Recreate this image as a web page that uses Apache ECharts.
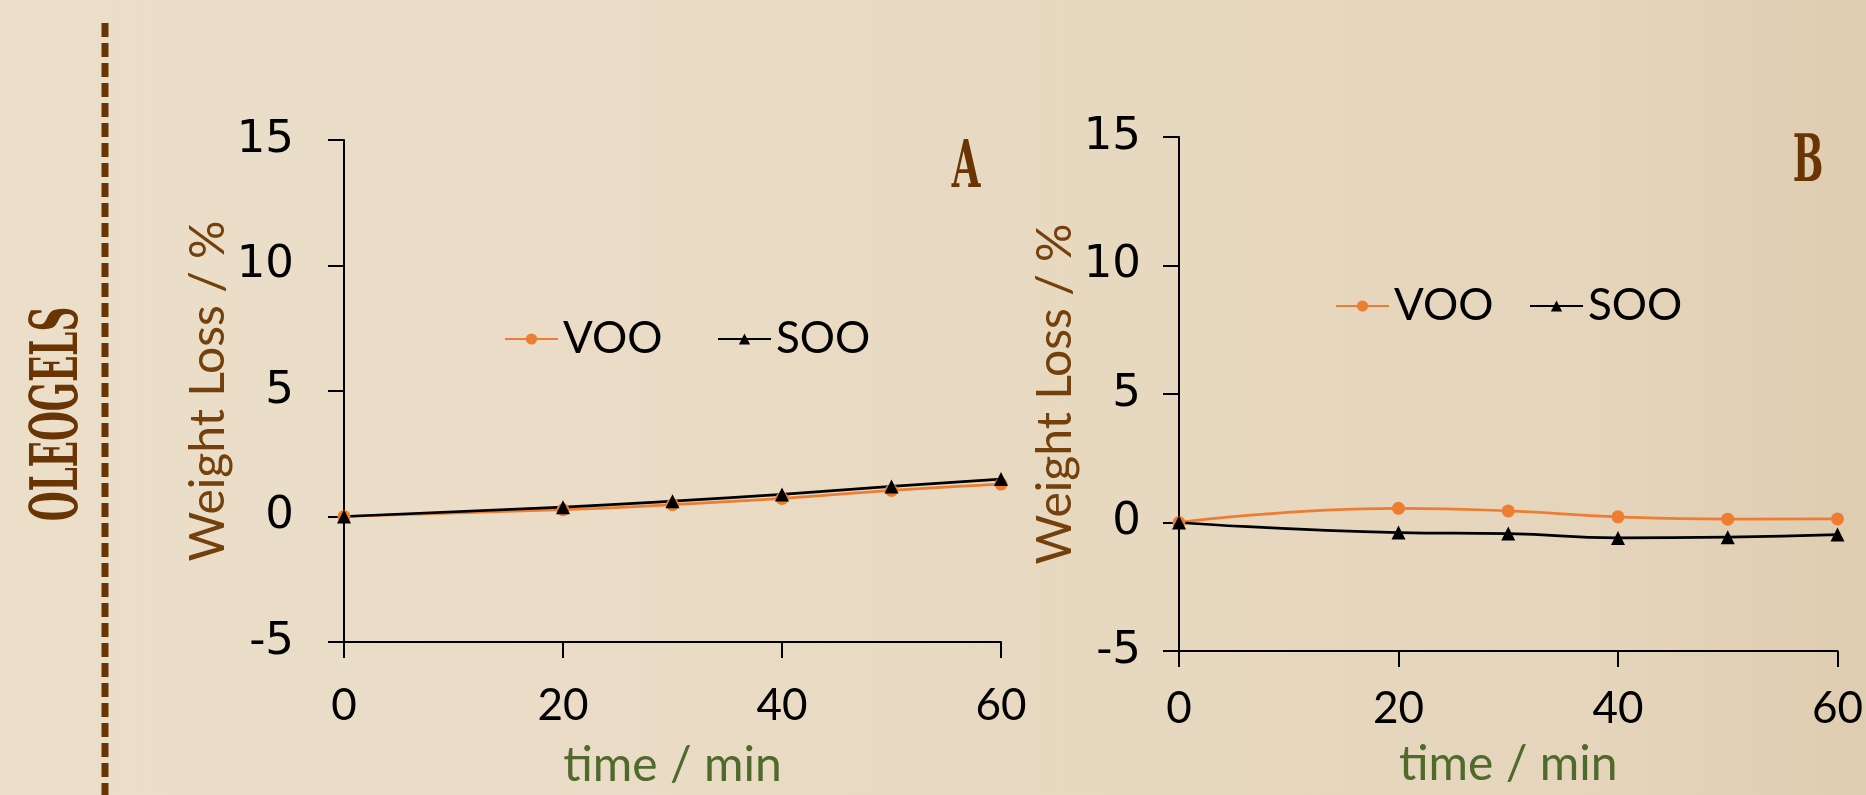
<!DOCTYPE html>
<html>
<head>
<meta charset="utf-8">
<script src="https://cdn.jsdelivr.net/npm/echarts@6/dist/echarts.min.js"></script>
<style>
html,body{margin:0;padding:0;}
#chart{width:1866px;height:795px;}
</style>
</head>
<body>
<div id="chart"></div>
<script>
// ---- data ----
const timeMin = [0, 20, 30, 40, 50, 60];
const vooA = [0, 0.27, 0.47, 0.72, 1.04, 1.29];
const sooA = [0, 0.37, 0.61, 0.88, 1.20, 1.49];
const vooB = [0, 0.55, 0.45, 0.22, 0.13, 0.14];
const sooB = [0, -0.39, -0.43, -0.60, -0.57, -0.47];
const seriesNames = ['VOO', 'SOO'];
const panelLabels = ['A', 'B'];
const sideLabel = 'OLEOGELS';
const xTitle = 'time / min';
const yTitle = 'Weight Loss / %';

const pairs = arr => timeMin.map((t, i) => [t, arr[i]]);

const BROWN = '#6a3505';
const ORANGE = '#ed7d31';
const GREEN = '#4f6a2a';

function xAxis(gridIndex, labelMargin, nameGap) {
  return {
    type: 'value', gridIndex, min: 0, max: 60, interval: 20,
    name: xTitle, nameLocation: 'middle', nameGap,
    nameTextStyle: { fontFamily: 'Lato', fontSize: 48, color: GREEN },
    axisLine: { onZero: false, lineStyle: { color: '#000', width: 2 } },
    axisTick: { show: true, length: 16, lineStyle: { color: '#000', width: 2 } },
    axisLabel: { fontFamily: 'Lato', fontSize: 44, color: '#000', margin: labelMargin },
    splitLine: { show: false }
  };
}
function yAxis(gridIndex, labelMargin, nameGap) {
  return {
    type: 'value', gridIndex, min: -5, max: 15, interval: 5,
    name: yTitle, nameLocation: 'middle', nameGap, nameRotate: 90,
    nameTextStyle: { fontFamily: 'Lato', fontSize: 48, color: '#74400c' },
    axisLine: { show: true, lineStyle: { color: '#000', width: 2 } },
    axisTick: { show: true, length: 16, lineStyle: { color: '#000', width: 2 } },
    axisLabel: { fontFamily: 'DejaVu Sans', fontSize: 45, color: '#000', margin: labelMargin },
    splitLine: { show: false }
  };
}
function lineSeries(name, data, idx, smooth) {
  const isV = name === 'VOO';
  return {
    name, type: 'line', xAxisIndex: idx, yAxisIndex: idx, data,
    smooth,
    symbol: isV ? 'circle' : 'triangle',
    symbolSize: isV ? 13 : 14,
    lineStyle: { color: isV ? ORANGE : '#000', width: 2.75 },
    itemStyle: { color: isV ? ORANGE : '#000' },
    animation: false
  };
}
function legend(name, left, top) {
  return {
    data: [name], left, top, padding: 0, itemWidth: 53, itemHeight: 14, itemGap: 6,
    textStyle: { fontFamily: 'Lato', fontSize: 44, color: '#000' }
  };
}

const chart = echarts.init(document.getElementById('chart'));
chart.setOption({
  backgroundColor: {
    type: 'linear', x: 0, y: 0, x2: 1, y2: 0,
    colorStops: [
      { offset: 0, color: '#ebdfca' },
      { offset: 0.3, color: '#eadcc6' },
      { offset: 0.6, color: '#e7d8c0' },
      { offset: 0.85, color: '#e5d5bc' },
      { offset: 1, color: '#dfcdb1' }
    ]
  },
  animation: false,
  grid: [
    { left: 344, top: 140, width: 657, height: 503 },
    { left: 1179, top: 137, width: 663, height: 514 }
  ],
  xAxis: [xAxis(0, 42, 100), xAxis(1, 36, 90)],
  yAxis: [yAxis(0, 50, 98), yAxis(1, 38, 88)],
  legend: [
    legend(seriesNames[0], 504, 317),
    legend(seriesNames[1], 717, 317),
    legend(seriesNames[0], 1335, 284),
    legend(seriesNames[1], 1529, 284)
  ],
  series: [
    lineSeries('VOO', pairs(vooA), 0, true),
    lineSeries('SOO', pairs(sooA), 0, true),
    lineSeries('VOO', pairs(vooB), 1, true),
    lineSeries('SOO', pairs(sooB), 1, true)
  ],
  graphic: [
    { type: 'line', shape: { x1: 105, y1: 23, x2: 105, y2: 795 },
      style: { stroke: BROWN, lineWidth: 7, lineDash: [14, 6] } },
    { type: 'text', x: 60, y: 414, rotation: Math.PI / 2, scaleX: 0.52,
      style: { text: sideLabel, fontFamily: 'DejaVu Serif', fontWeight: 'bold', fontSize: 66,
               fill: BROWN, align: 'center', verticalAlign: 'middle' } },
    { type: 'text', x: 966, y: 170, scaleX: 0.56,
      style: { text: panelLabels[0], fontFamily: 'DejaVu Serif', fontWeight: 'bold', fontSize: 66,
               fill: BROWN, align: 'center', verticalAlign: 'middle' } },
    { type: 'text', x: 1808, y: 164, scaleX: 0.55,
      style: { text: panelLabels[1], fontFamily: 'DejaVu Serif', fontWeight: 'bold', fontSize: 66,
               fill: BROWN, align: 'center', verticalAlign: 'middle' } }
  ]
});
</script>
</body>
</html>
